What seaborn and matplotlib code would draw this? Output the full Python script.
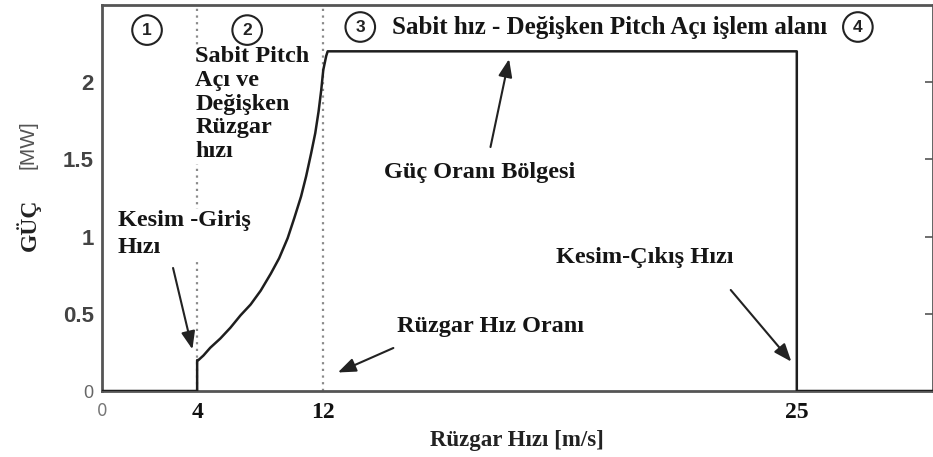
import numpy as np
import pandas as pd
import matplotlib
matplotlib.use("Agg")
import matplotlib.pyplot as plt
import seaborn as sns

# Wind speed [m/s] and turbine power [MW] along the power curve
wind_speed = [0, 4, 4, 4.08, 4.40, 4.83, 5.47, 6.11, 6.75, 7.39, 8.03, 8.67, 9.20,
              9.74, 10.16, 10.59, 10.91, 11.23, 11.49, 11.70, 11.87, 12.0, 12.08,
              12.12, 25, 25, 30]
power_mw = [0, 0, 0.20, 0.20, 0.23, 0.28, 0.34, 0.41, 0.49, 0.56, 0.65, 0.76, 0.86,
            0.99, 1.12, 1.26, 1.39, 1.54, 1.67, 1.81, 1.95, 2.08, 2.17,
            2.20, 2.20, 0, 0]

# Characteristic speeds marked on the axis
x_ticks = [0, 4, 12, 25]
x_tick_labels = ["0", "4", "12", "25"]
y_ticks = [0, 0.5, 1, 1.5, 2]
y_tick_labels = ["0", "0.5", "1", "1.5", "2"]
region_lines = [4, 12]

# Piecewise axis: stretch of each wind-speed interval on the horizontal axis
scale_breaks = [-100, 0, 4, 12, 25, 30, 130]
scale_pos = [-11.59, 0.0, 0.1145, 0.2663, 0.8361, 1.0, 3.3]

def fwd(v):
    return np.interp(v, scale_breaks, scale_pos)

def inv(v):
    return np.interp(v, scale_pos, scale_breaks)

sns.set_theme(style="white")
plt.rcParams["font.family"] = ["Liberation Serif", "DejaVu Serif"]

df = pd.DataFrame({"Rüzgar Hızı": wind_speed, "Güç": power_mw})

fig = plt.figure(figsize=(9.33, 4.57), dpi=100)
ax = fig.add_axes([102 / 933, 1 - 391 / 457, 831 / 933, 386 / 457])
ax.set_xscale("function", functions=(fwd, inv))

for xv in region_lines:
    ax.axvline(xv, color="#8a8a8a", lw=1.6, ls=(0, (1, 2)), zorder=1)

sns.lineplot(data=df, x="Rüzgar Hızı", y="Güç", sort=False, estimator=None,
             color="#1e1e1e", lw=1.8, ax=ax, zorder=6)

ax.set_xlim(0, 30)
ax.set_ylim(0, 2.5)
ax.set_xlabel("")
ax.set_ylabel("")

ax.set_xticks(x_ticks)
ax.set_xticklabels(x_tick_labels)
ax.set_yticks(y_ticks)
ax.set_yticklabels(y_tick_labels)
ax.tick_params(axis="x", length=0, pad=8)
ax.tick_params(axis="y", direction="in", length=6, width=1.2, color="#555555",
               right=True, pad=6)
for lab in ax.get_xticklabels():
    lab.set_fontsize(17)
    lab.set_fontweight("bold")
    lab.set_color("#111111")
ax.get_xticklabels()[0].set_fontfamily("DejaVu Sans")
ax.get_xticklabels()[0].set_fontsize(12)
ax.get_xticklabels()[0].set_fontweight("normal")
ax.get_xticklabels()[0].set_color("#777777")
for lab in ax.get_yticklabels():
    lab.set_fontfamily("Liberation Sans")
    lab.set_fontsize(16)
    lab.set_fontweight("bold")
    lab.set_color("#444444")
ax.get_yticklabels()[0].set_fontsize(13)
ax.get_yticklabels()[0].set_fontweight("normal")
ax.get_yticklabels()[0].set_color("#666666")

for side in ["left", "bottom", "top", "right"]:
    ax.spines[side].set_color("#555555")
    ax.spines[side].set_linewidth(2.0)

white = dict(facecolor="white", edgecolor="none", pad=1)
txt = dict(fontsize=17.5, fontweight="bold", color="#151515", transform=ax.transAxes)

ax.text(0.112, 0.893, "Sabit Pitch\nAçı ve\nDeğişken\nRüzgar\nhızı",
        ha="left", va="top", linespacing=1.17, bbox=white, zorder=4, **txt)
ax.text(0.019, 0.468, "Kesim -Giriş\nHızı", ha="left", va="top",
        linespacing=1.35, bbox=white, zorder=4, **txt)
ax.text(0.349, 0.943, "Sabit hız - Değişken Pitch Açı işlem alanı",
        ha="left", va="center", zorder=4, fontsize=18, fontweight="bold",
        color="#151515", transform=ax.transAxes)
ax.text(0.339, 0.567, "Güç Oranı Bölgesi", ha="left", va="center", zorder=4, **txt)
ax.text(0.546, 0.347, "Kesim-Çıkış Hızı", ha="left", va="center", zorder=4, **txt)
ax.text(0.355, 0.166, "Rüzgar Hız Oranı", ha="left", va="center", zorder=4, **txt)

circ = dict(boxstyle="circle,pad=0.42", facecolor="white", edgecolor="#222222", lw=1.5)
for label, (cx, cy) in zip(["1", "2", "3", "4"],
                           [(0.0542, 0.935), (0.1747, 0.935), (0.3108, 0.943), (0.9096, 0.943)]):
    ax.text(cx, cy, label, ha="center", va="center", fontsize=12.5, fontweight="bold",
            family="Liberation Sans", color="#222222", bbox=circ,
            transform=ax.transAxes, zorder=7)

arrow = dict(arrowstyle="-|>,head_length=0.9,head_width=0.35", color="#222222",
             lw=1.5, shrinkA=0, shrinkB=0)
ax.annotate("", xy=(3.8, 0.27), xytext=(0.0855, 0.3187), xycoords="data",
            textcoords="axes fraction", arrowprops=arrow, zorder=5)
ax.annotate("", xy=(17.1, 2.15), xytext=(0.4675, 0.632), xycoords="data",
            textcoords="axes fraction", arrowprops=arrow, zorder=5)
ax.annotate("", xy=(12.4, 0.12), xytext=(0.3506, 0.1114), xycoords="data",
            textcoords="axes fraction", arrowprops=arrow, zorder=5)
ax.annotate("", xy=(24.85, 0.19), xytext=(0.7566, 0.2617), xycoords="data",
            textcoords="axes fraction", arrowprops=arrow, zorder=5)

fig.text(0.030, 0.5077, "GÜÇ", rotation=90, ha="center", va="center",
         fontsize=17, fontweight="bold", color="#222222")
fig.text(0.030, 0.6827, "[MW]", rotation=90, ha="center", va="center",
         fontsize=15, family="Liberation Sans", color="#555555")
fig.text(0.554, 0.037, "Rüzgar Hızı [m/s]", ha="center", va="center",
         fontsize=16.5, fontweight="bold", color="#222222")

fig.savefig("out.png", dpi=100)
